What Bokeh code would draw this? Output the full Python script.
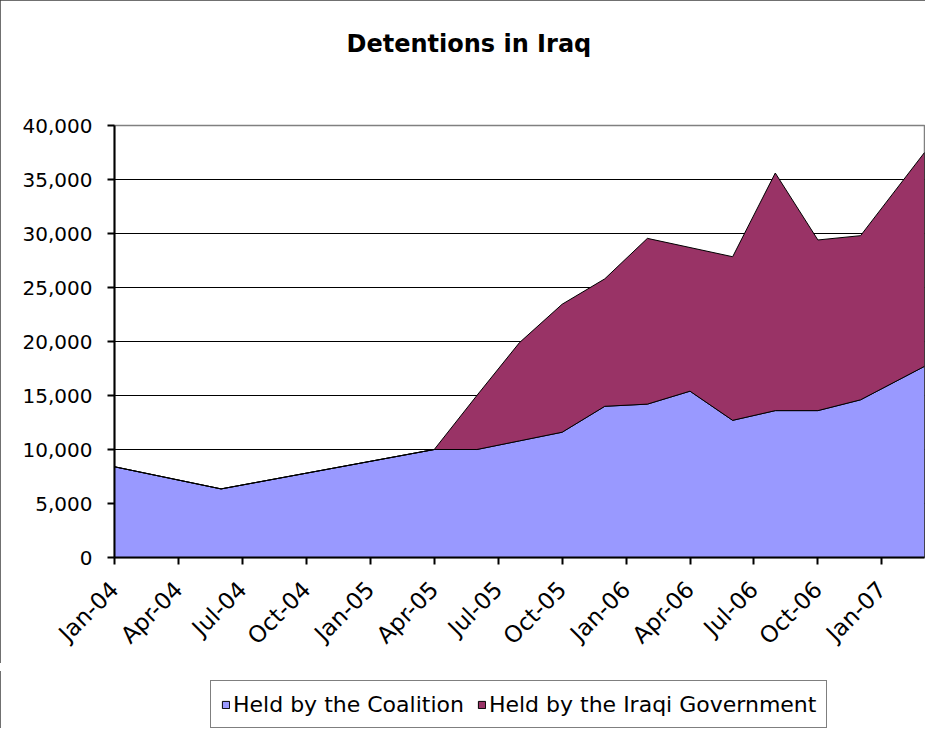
import math
from bokeh.plotting import figure
from bokeh.layouts import column
from bokeh.models import (Range1d, FixedTicker, NumeralTickFormatter, Legend, LegendItem, Title)
from bokeh.embed import file_html
from bokeh.resources import INLINE

# ---- data ----
months = ["2004-01", "2004-06", "2005-04", "2005-06", "2005-08", "2005-10", "2005-12",
          "2006-02", "2006-04", "2006-06", "2006-08", "2006-10", "2006-12", "2007-03"]
coalition = [8400, 6350, 10000, 10000, 10800, 11600, 14000,
             14200, 15400, 12700, 13600, 13600, 14600, 17700]
iraqi_gov = [0, 0, 0, 5000, 9100, 11850, 11800,
             15350, 13300, 15150, 22000, 15800, 15200, 19800]
tick_labels = ["Jan-04", "Apr-04", "Jul-04", "Oct-04", "Jan-05", "Apr-05", "Jul-05",
               "Oct-05", "Jan-06", "Apr-06", "Jul-06", "Oct-06", "Jan-07"]
series_names = ["Held by the Coalition", "Held by the Iraqi Government"]
series_colors = ["#9999FF", "#993366"]
title_text = "Detentions in Iraq"


def month_index(s):
    y, m = s.split("-")
    return (int(y) - 2004) * 12 + int(m) - 1


def label_index(s):
    names = ["Jan", "Feb", "Mar", "Apr", "May", "Jun", "Jul", "Aug", "Sep", "Oct", "Nov", "Dec"]
    mon, yy = s.split("-")
    return (int(yy) - 4) * 12 + names.index(mon)


x = [month_index(m) for m in months]
total = [c + g for c, g in zip(coalition, iraqi_gov)]
tick_pos = [label_index(t) for t in tick_labels]
blue_xs, blue_ys = x + x[::-1], coalition + [0] * len(x)
red_xs, red_ys = x + x[::-1], total + coalition[::-1]

FONT = "DejaVu Sans"
W = 927
EDGE = "2px solid #404040"

# ---------------- main chart ----------------
p = figure(width=W, height=667, output_backend="svg", toolbar_location=None,
           x_range=Range1d(0, 38), y_range=Range1d(0, 40000),
           min_border_left=114, min_border_right=3, min_border_top=125, min_border_bottom=110)
p.background_fill_color = "white"
p.border_fill_color = "white"
p.outline_line_color = "#808080"
p.outline_line_width = 1.5
p.styles = {"outline": EDGE, "outline-offset": "-2px", "clip-path": "inset(0px 2px 4px 0px)"}

p.patch(blue_xs, blue_ys, fill_color=series_colors[0], line_color="black", line_width=1)
p.patch(red_xs, red_ys, fill_color=series_colors[1], line_color="black", line_width=1)

p.xgrid.visible = False
p.ygrid.grid_line_color = "black"
p.ygrid.grid_line_width = 1
p.ygrid.ticker = FixedTicker(ticks=list(range(0, 40001, 5000)))

p.yaxis.ticker = FixedTicker(ticks=list(range(0, 40001, 5000)))
p.yaxis.formatter = NumeralTickFormatter(format="0,0")
p.xaxis.ticker = FixedTicker(ticks=tick_pos)
p.xaxis.major_label_overrides = {t: l for t, l in zip(tick_pos, tick_labels)}
p.xaxis.major_label_orientation = math.pi / 4

for ax in (p.xaxis[0], p.yaxis[0]):
    ax.axis_line_color = "black"
    ax.axis_line_width = 2
    ax.major_tick_line_color = "black"
    ax.major_tick_line_width = 2
    ax.major_tick_in = 0
    ax.major_tick_out = 7
    ax.minor_tick_line_color = None
    ax.major_label_text_font = FONT
    ax.major_label_text_font_size = "20px"
    ax.major_label_text_color = "black"

p.yaxis.major_label_standoff = 15
p.xaxis.major_label_standoff = 21
p.xaxis.major_label_text_font_size = "23px"

# title (outermost in the "above" panel) + a blank spacer title nearer the frame
p.title.text = title_text
p.title.text_font = FONT
p.title.text_font_size = "24px"
p.title.text_font_style = "bold"
p.title.text_color = "black"
p.title.align = "left"
p.title.offset = 232
p.title.standoff = 10
p.add_layout(Title(text=" ", text_font_size="24px", standoff=34), "above")

# ---------------- legend strip ----------------
leg = figure(width=W, height=65, output_backend="svg", toolbar_location=None,
             x_range=Range1d(-100, -90), y_range=Range1d(-100, -90),
             min_border_left=0, min_border_right=0, min_border_top=0, min_border_bottom=0)
leg.axis.visible = False
leg.grid.visible = False
leg.outline_line_color = None
leg.title.text = ""
leg.background_fill_color = "white"
leg.border_fill_color = "white"
leg.styles = {"outline": EDGE, "outline-offset": "-2px", "clip-path": "inset(4px 2px 4px 0px)"}
r_blue = leg.patch(blue_xs, blue_ys, fill_color=series_colors[0], line_color="black", line_width=1)
r_red = leg.patch(red_xs, red_ys, fill_color=series_colors[1], line_color="black", line_width=1)

legend = Legend(items=[LegendItem(label=series_names[0], renderers=[r_blue]),
                       LegendItem(label=series_names[1], renderers=[r_red])],
                orientation="horizontal", location=(96, 4))
legend.label_text_font = FONT
legend.label_text_font_size = "22px"
legend.label_text_color = "black"
legend.glyph_width = 9
legend.glyph_height = 9
legend.label_standoff = 3
legend.spacing = 13
legend.padding = 10
legend.label_height = 26
legend.border_line_color = "black"
legend.border_line_width = 1.5
legend.background_fill_color = "white"
legend.background_fill_alpha = 1
legend.margin = 0
leg.add_layout(legend, "center")

page = column(p, leg, spacing=0)

open("out.html", "w").write(file_html(page, INLINE))
